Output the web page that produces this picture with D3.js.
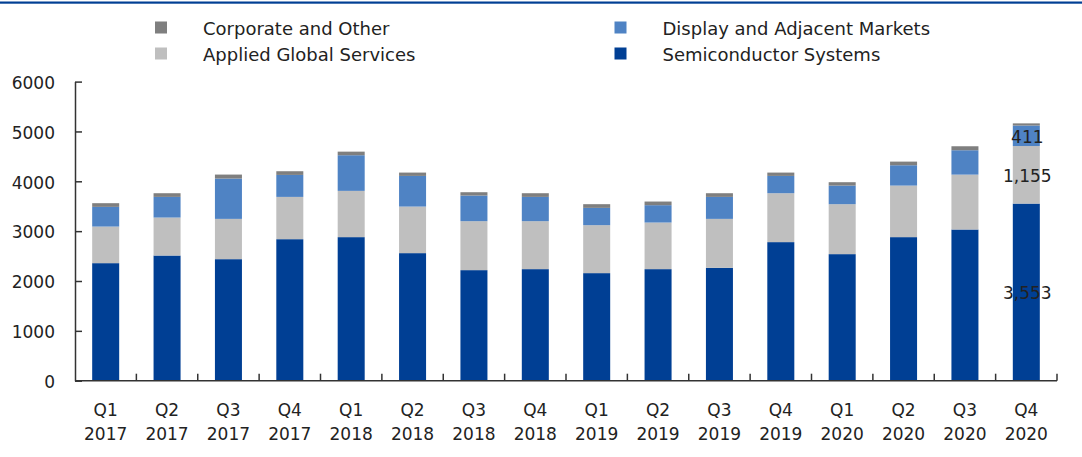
<!DOCTYPE html>
<html>
<head>
<meta charset="utf-8">
<script src="https://cdn.jsdelivr.net/npm/d3@7"></script>
<style>
  html, body { margin: 0; padding: 0; background: #fff; }
  svg { display: block; }
  text { font-family: "DejaVu Sans", Verdana, sans-serif; fill: #222; }
</style>
</head>
<body>
<svg id="chart" width="1082" height="457"></svg>
<script>
// Quarterly net sales by segment ($ millions)
const quarters = ["Q1","Q2","Q3","Q4","Q1","Q2","Q3","Q4","Q1","Q2","Q3","Q4","Q1","Q2","Q3","Q4"];
const years = ["2017","2017","2017","2017","2018","2018","2018","2018","2019","2019","2019","2019","2020","2020","2020","2020"];
const semiconductorSystems = [2358, 2511, 2438, 2839, 2880, 2559, 2218, 2238, 2158, 2238, 2265, 2780, 2539, 2880, 3033, 3553];
const appliedGlobalServices = [734, 762, 808, 848, 928, 934, 982, 962, 962, 935, 981, 981, 1002, 1034, 1101, 1155];
const displayAdjacent = [395, 414, 809, 441, 715, 615, 514, 487, 347, 348, 441, 347, 373, 408, 489, 411];
const corporateOther = [74, 74, 80, 74, 72, 67, 67, 74, 74, 73, 74, 67, 68, 73, 80, 43];
const yTicks = [0, 1000, 2000, 3000, 4000, 5000, 6000];

const seriesKeys = ["semi", "ags", "display", "corp"];
const seriesNames = {
  semi: "Semiconductor Systems",
  ags: "Applied Global Services",
  display: "Display and Adjacent Markets",
  corp: "Corporate and Other"
};
const colors = { semi: "#003f94", ags: "#bfbfbf", display: "#4f83c4", corp: "#7f7f7f" };

const rows = quarters.map((q, i) => ({
  label: q + " " + years[i],
  q, year: years[i],
  semi: semiconductorSystems[i],
  ags: appliedGlobalServices[i],
  display: displayAdjacent[i],
  corp: corporateOther[i]
}));

const svg = d3.select("#chart");

// header rule
svg.append("rect").attr("x", 0).attr("y", 1.5).attr("width", 1082).attr("height", 2.2).attr("fill", "#003f94");

const x = d3.scaleBand()
  .domain(rows.map(d => d.label))
  .range([75, 1057])
  .paddingInner(0.56)
  .paddingOuter(0.28);

const y = d3.scaleLinear().domain([0, 6000]).range([380.7, 81.6]);

const stacked = d3.stack().keys(seriesKeys)(rows);

// bars
svg.append("g").selectAll("g")
  .data(stacked)
  .join("g")
  .attr("fill", s => colors[s.key])
  .selectAll("rect")
  .data(s => s)
  .join("rect")
  .attr("x", d => x(d.data.label))
  .attr("width", x.bandwidth())
  .attr("y", d => y(d[1]))
  .attr("height", d => y(d[0]) - y(d[1]));

// y axis
const yAxis = svg.append("g")
  .attr("transform", "translate(75,0)")
  .call(d3.axisLeft(y).tickValues(yTicks).tickFormat(d3.format("d"))
    .tickSize(-7).tickSizeOuter(0).tickPadding(20));
yAxis.select(".domain").attr("stroke", "#333").attr("stroke-width", 1.5);
yAxis.selectAll(".tick line").attr("stroke", "#333").attr("stroke-width", 1.5);
yAxis.selectAll(".tick text")
  .style("font-family", "'DejaVu Sans', Verdana, sans-serif")
  .style("font-size", "17px").attr("fill", "#222").attr("dy", "0.4em");

// x axis: baseline, boundary ticks and two-line category labels
const xAxis = svg.append("g");
const x0 = x.range()[0], x1 = x.range()[1], step = x.step();
xAxis.append("line")
  .attr("x1", x0).attr("x2", x1)
  .attr("y1", y(0)).attr("y2", y(0))
  .attr("stroke", "#333").attr("stroke-width", 1.5);
xAxis.selectAll("line.bound")
  .data(d3.range(1, rows.length + 1))
  .join("line")
  .attr("class", "bound")
  .attr("x1", i => x0 + i * step).attr("x2", i => x0 + i * step)
  .attr("y1", y(0)).attr("y2", y(0) - 7)
  .attr("stroke", "#333").attr("stroke-width", 1.5);
const labels = xAxis.selectAll("text")
  .data(rows)
  .join("text")
  .attr("text-anchor", "middle")
  .style("font-size", "17px");
labels.append("tspan")
  .attr("x", d => x(d.label) + x.bandwidth() / 2)
  .attr("y", 415.5)
  .text(d => d.q);
labels.append("tspan")
  .attr("x", d => x(d.label) + x.bandwidth() / 2)
  .attr("y", 439.5)
  .text(d => d.year);

// value labels on the latest quarter
const last = rows.length - 1;
const fmt = d3.format(",");
svg.append("g").selectAll("text")
  .data(stacked.filter(s => s.key !== "corp"))
  .join("text")
  .attr("x", x(rows[last].label) + x.bandwidth() / 2 + 1)
  .attr("y", s => (y(s[last][0]) + y(s[last][1])) / 2)
  .attr("dy", "0.42em")
  .attr("text-anchor", "middle")
  .style("font-size", "17px")
  .attr("fill", "#111")
  .text(s => fmt(s[last].data[s.key]));

// legend
const legendItems = [
  { key: "corp", col: 0, row: 0 },
  { key: "ags", col: 0, row: 1 },
  { key: "display", col: 1, row: 0 },
  { key: "semi", col: 1, row: 1 }
];
const colX = [155, 614.5];
const legend = svg.append("g").selectAll("g")
  .data(legendItems)
  .join("g")
  .attr("transform", d => `translate(${colX[d.col]},${21.5 + d.row * 26})`);
legend.append("rect")
  .attr("width", 12).attr("height", 12)
  .attr("fill", d => colors[d.key]);
legend.append("text")
  .attr("x", 48).attr("y", 13.8)
  .style("font-size", "18px")
  .text(d => seriesNames[d.key]);
</script>
</body>
</html>
